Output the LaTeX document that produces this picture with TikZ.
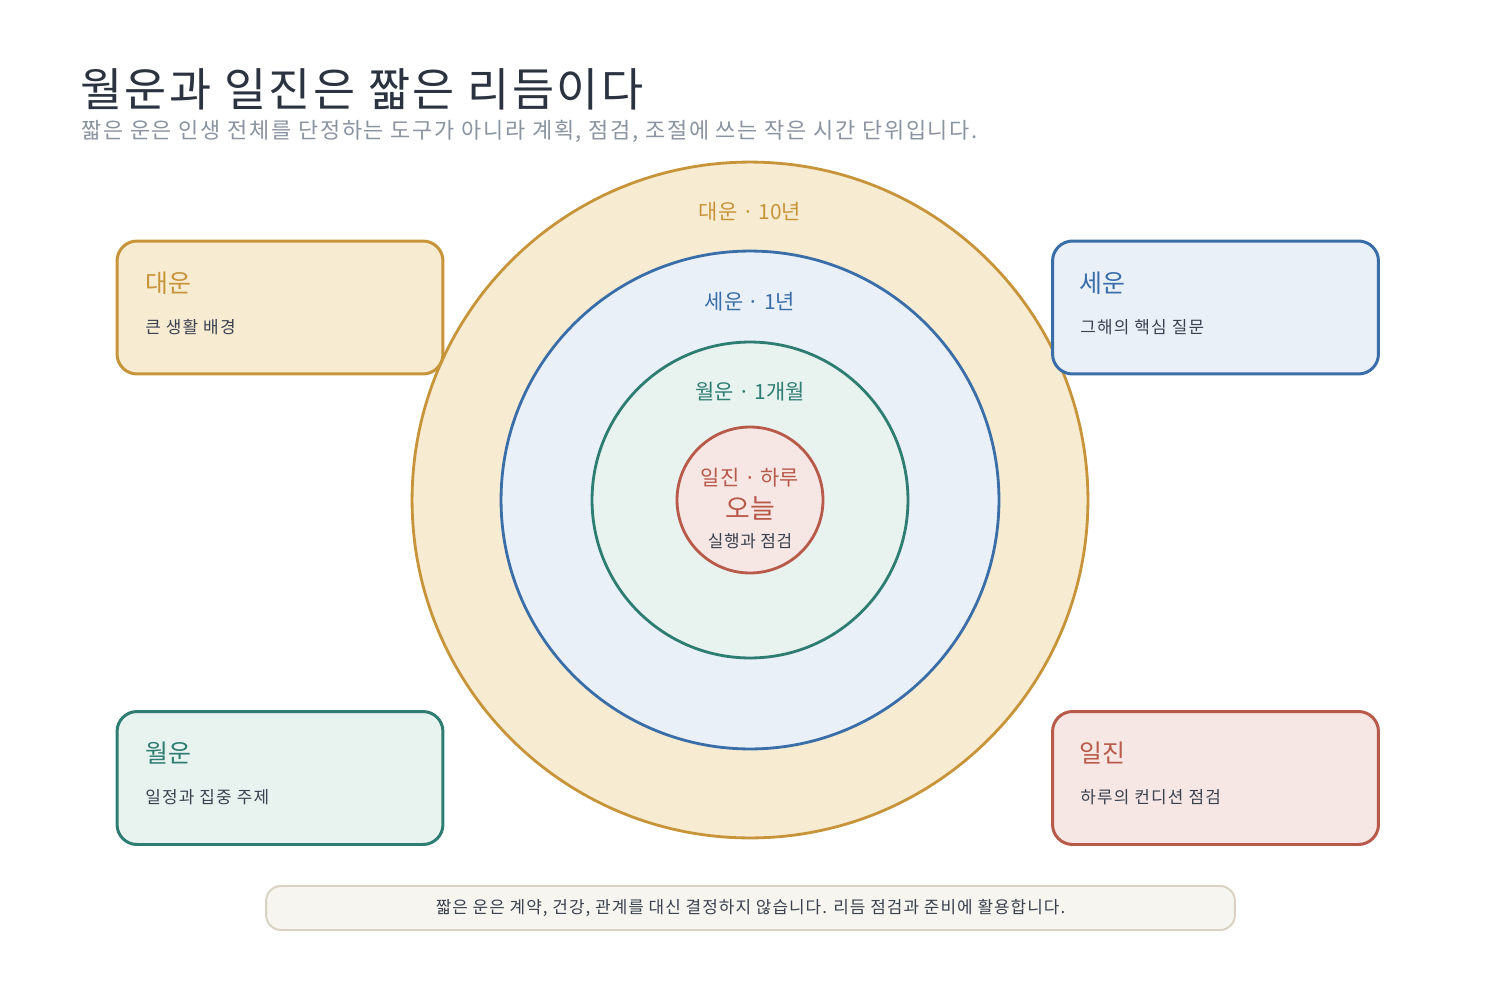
\documentclass[tikz,border=0pt]{standalone}
\usepackage{fontspec}
\setmainfont{Noto Sans CJK KR}
\usepackage{tikz}
\usetikzlibrary{positioning,backgrounds}
\definecolor{gold}{HTML}{C8943A}
\definecolor{goldfill}{HTML}{F7EBD2}
\definecolor{steelblue}{HTML}{3A6EA8}
\definecolor{bluefill}{HTML}{E9F0F8}
\definecolor{teal}{HTML}{2E7D72}
\definecolor{tealfill}{HTML}{E8F2EE}
\definecolor{brick}{HTML}{B85A4A}
\definecolor{brickfill}{HTML}{F6E6E4}
\definecolor{inkdark}{HTML}{2B3340}
\definecolor{inkgray}{HTML}{8A93A0}
\definecolor{inkbody}{HTML}{3A4250}
\definecolor{notefill}{HTML}{F7F5EF}
\definecolor{notedraw}{HTML}{D9D2C3}
\newcommand{\px}[1]{\fontsize{\the\dimexpr0.567pt*#1\relax}{\the\dimexpr0.68pt*#1\relax}\selectfont}
\newcommand{\spaced}[1]{\addfontfeature{LetterSpace=#1}}
\tikzset{
  ring/.style={circle,line width=1.6pt,inner sep=0pt},
  ringlabel/.style={inner sep=0pt,font=\px{21}},
  cardbox/.style={rectangle,rounded corners=0.4cm,line width=1.7pt,minimum width=6.52cm,minimum height=2.66cm},
  cardtitle/.style={anchor=west,inner sep=0pt,font=\px{25}},
  cardtext/.style={anchor=west,inner sep=0pt,text=inkbody,font=\px{17}\spaced{7}}
}

\begin{document}
\begin{tikzpicture}[x=0.02cm,y=-0.02cm]
  \useasboundingbox[fill=white] (0,0) rectangle (1500,980);

  % heading
  \node[anchor=west,inner sep=0pt,text=inkdark,font=\px{46}\spaced{5.2}] (title) at (80,89) {월운과 일진은 짧은 리듬이다};
  \node[anchor=west,inner sep=0pt,text=inkgray,font=\px{22}\spaced{8}] (subtitle) at (81,131) {짧은 운은 인생 전체를 단정하는 도구가 아니라 계획, 점검, 조절에 쓰는 작은 시간 단위입니다.};

  % rings
  \node[ring,draw=gold,fill=goldfill,minimum size=13.52cm] (daeunring) at (750,500) {};
  \node[ring,draw=steelblue,fill=bluefill,minimum size=9.96cm] (seunring) at (750,500) {};
  \node[ring,draw=teal,fill=tealfill,minimum size=6.32cm] (wolunring) at (750,500) {};
  \node[ring,draw=brick,fill=brickfill,minimum size=2.92cm] (iljinring) at (750,500) {};

  \node[ringlabel,text=gold] at (750,212) {대운 · 10년};
  \node[ringlabel,text=steelblue] at (750,302) {세운 · 1년};
  \node[ringlabel,text=teal] at (750,392) {월운 · 1개월};
  \node[ringlabel,text=brick] at (750,478) {일진 · 하루};
  \node[inner sep=0pt,text=brick,font=\px{27}] (today) at (750,508) {오늘};
  \node[inner sep=0pt,text=inkbody,font=\px{17}\spaced{4}] at (750,541) {실행과 점검};

  % cards
  \node[cardbox,draw=gold,fill=goldfill] (daeun) at (280,307.5) {};
  \node[cardtitle,text=gold] at (145,283) {대운};
  \node[cardtext] at (145,327) {큰 생활 배경};

  \node[cardbox,draw=steelblue,fill=bluefill] (seun) at (1215.5,307.5) {};
  \node[cardtitle,text=steelblue] at (1079,283) {세운};
  \node[cardtext] at (1080,327) {그해의 핵심 질문};

  \node[cardbox,draw=teal,fill=tealfill] (wolun) at (280,778) {};
  \node[cardtitle,text=teal] at (145,753) {월운};
  \node[cardtext] at (145,797) {일정과 집중 주제};

  \node[cardbox,draw=brick,fill=brickfill] (iljin) at (1215.5,778) {};
  \node[cardtitle,text=brick] at (1079,753) {일진};
  \node[cardtext] at (1080,797) {하루의 컨디션 점검};

  % note
  \node[rectangle,rounded corners=0.3cm,line width=1.1pt,draw=notedraw,fill=notefill,
        minimum width=19.38cm,minimum height=0.88cm,text=inkbody,font=\px{17}\spaced{6}] (note) at (750.5,908)
        {짧은 운은 계약, 건강, 관계를 대신 결정하지 않습니다. 리듬 점검과 준비에 활용합니다.};
\end{tikzpicture}
\end{document}
